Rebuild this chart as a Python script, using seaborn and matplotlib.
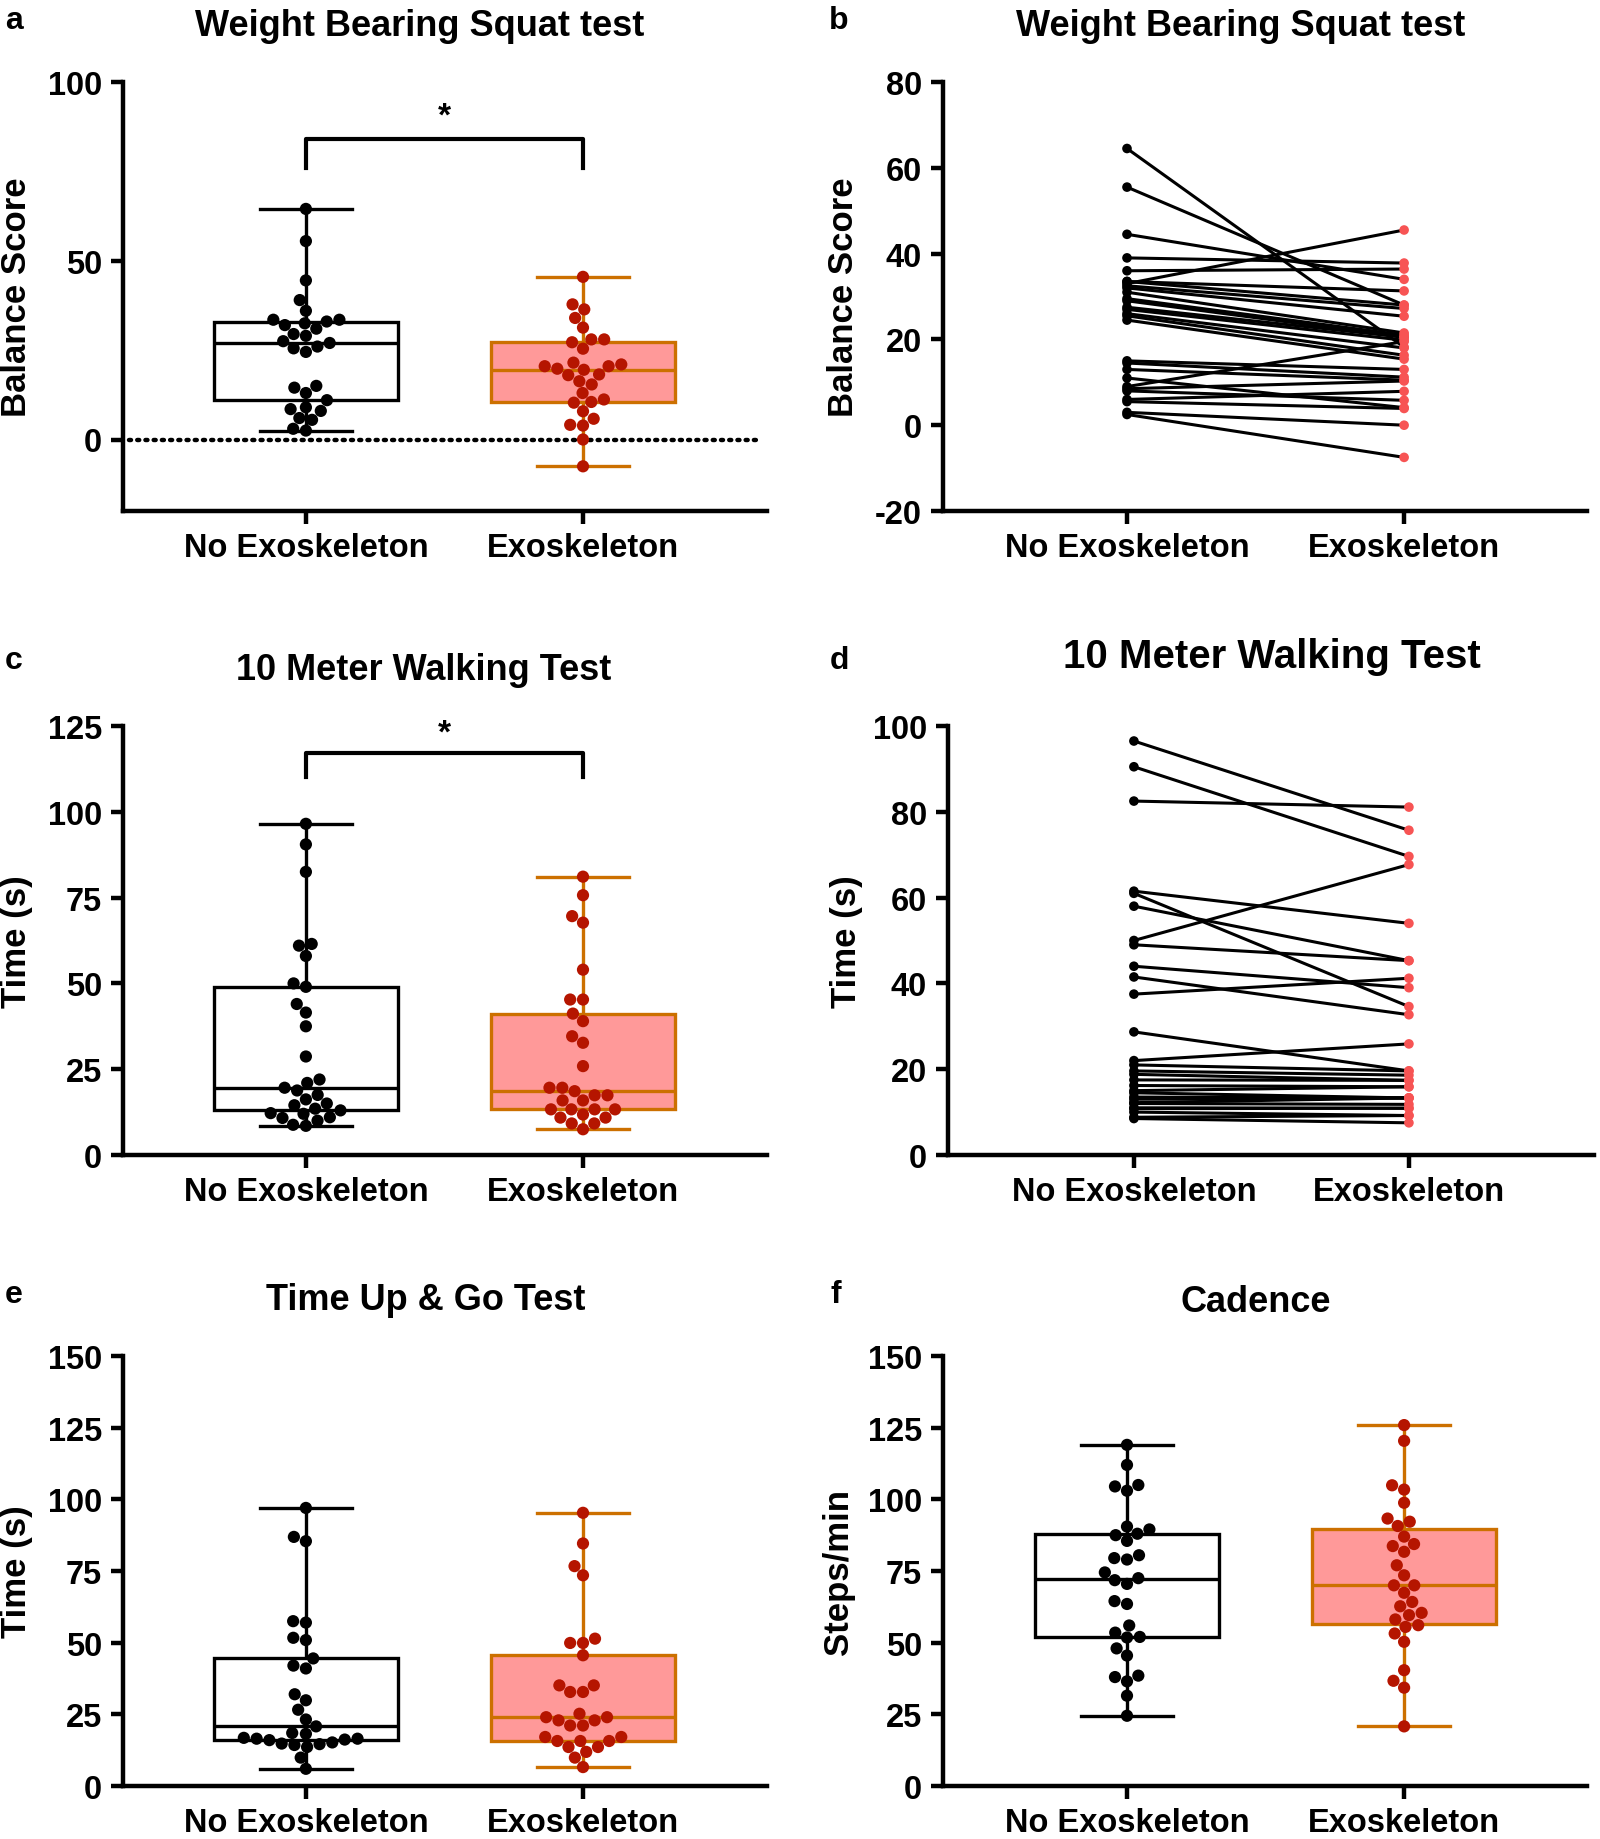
import matplotlib
matplotlib.use("Agg")
import matplotlib.pyplot as plt
import seaborn as sns
import pandas as pd
import numpy as np
import warnings
warnings.simplefilter("ignore", UserWarning)

groups = ["No Exoskeleton", "Exoskeleton"]

# Weight bearing squat test (balance score), paired by subject
balance_no_exo = [64.5, 55.5, 44.5, 39, 36, 33.5, 33.5, 33, 32.5, 32, 31, 29.5, 29, 27.5, 27,
                  26, 25.5, 24.5, 15, 14.5, 13, 11, 9, 8.5, 8, 6, 5.5, 3, 2.5]
balance_exo = [18.2, 28, 34, 37.8, 36.4, 28, 31.3, 45.5, 27.2, 25.4, 21.5, 21, 20.5, 20.5, 19.8,
               18, 16.3, 15.4, 13, 11.2, 10.5, 4.1, 19.5, 10.3, 5.8, 7.9, 3.9, 0, -7.5]

# 10 meter walking test (s), paired by subject
walk_no_exo = [96.5, 90.5, 82.5, 61.5, 61, 58, 50, 49, 44, 41.5, 37.5, 28.7, 22, 21, 19.6,
               18.8, 17.5, 16.2, 15, 14.5, 13.5, 13, 12.2, 12, 11, 10.8, 10, 8.8, 8.5]
walk_exo = [75.7, 69.6, 81.1, 54, 34.6, 45.3, 67.7, 45.3, 39, 32.7, 41.2, 19.6, 25.9, 19.6, 18.6,
            17.4, 17.4, 15.9, 15.9, 13.3, 13.3, 13.3, 13.3, 11.8, 10.9, 10.9, 9.2, 9.2, 7.5]

# Time up & go test (s)
tug_no_exo = [97, 86.9, 85.4, 57.5, 57, 51.7, 50.9, 44.5, 42, 41, 32, 29.9, 26.6, 23.2, 20.8,
              18.5, 18.2, 16.8, 16.5, 16.5, 16.2, 16, 15.2, 14.8, 14.6, 14.3, 13.6, 9.9, 6]
tug_exo = [95.3, 84.6, 76.7, 73.5, 51.4, 49.9, 49.9, 45.6, 35.1, 35.1, 32.8, 32.8, 25.2, 24, 24,
           22.9, 22.9, 21.1, 21.1, 17.1, 17.1, 15.7, 15.7, 15.7, 13.6, 13.6, 11.9, 9.9, 6.6]

# Cadence (steps/min)
cad_no_exo = [119, 112, 105, 104.5, 103, 90.5, 89.5, 88, 87.5, 85.5, 80.5, 79.5, 79, 74.5, 72.5,
              71.8, 70.5, 64.5, 63.5, 56, 53.5, 52, 51.8, 48, 45.5, 38.5, 38, 36.5, 31.5, 24.5]
cad_exo = [125.9, 120.4, 104.9, 103.4, 98.8, 93.3, 92.2, 90.7, 87, 84.4, 83.7, 81.7, 77, 73.5, 70,
           70, 67.4, 64.2, 62.7, 60.4, 59.6, 58.1, 56.1, 55.5, 53.2, 50.3, 40.4, 36.7, 34.3, 20.8]

BOX_FACE = "#FF9999"
BOX_EDGE = "#CC7000"
DOT_EXO = "#B51500"
DOT_PAIR = "#F75454"

FONT = "Liberation Sans"
plt.rcParams["font.family"] = [FONT, "DejaVu Sans"]
plt.rcParams["font.weight"] = "bold"
plt.rcParams["axes.unicode_minus"] = False


def long_df(a, b):
    return pd.DataFrame({"group": [groups[0]] * len(a) + [groups[1]] * len(b),
                         "value": list(a) + list(b)})


def style_axes(ax, yticks, ylim, xlim, ylabel, labx):
    sns.despine(ax=ax)
    for s in ["left", "bottom"]:
        ax.spines[s].set_linewidth(3.2)
    ax.set_ylim(*ylim)
    ax.set_xlim(*xlim)
    ax.set_yticks(yticks)
    ax.set_xticks([0, 1])
    ax.set_xticklabels(groups)
    ax.tick_params(axis="both", width=3.2, length=9, labelsize=23.5, pad=6)
    for t in ax.get_xticklabels() + ax.get_yticklabels():
        t.set_fontweight("bold")
    ax.set_xlabel("")
    ax.set_ylabel(ylabel, fontsize=25, fontweight="bold")
    # label coordinate is the right edge of the rotated text
    ax.yaxis.set_label_coords(labx, 0.5)


def box_panel(ax, a, b):
    df = long_df(a, b)
    for g, face, edge in [(groups[0], "white", "black"), (groups[1], BOX_FACE, BOX_EDGE)]:
        sns.boxplot(data=df[df.group == g], x="group", y="value", order=groups, color=face,
                    linecolor=edge, saturation=1, whis=(0, 100), width=0.665, showfliers=False,
                    linewidth=2.4, ax=ax)
    sns.swarmplot(data=df, x="group", y="value", order=groups, hue="group",
                  palette={groups[0]: "black", groups[1]: DOT_EXO}, size=8.8, legend=False,
                  ax=ax, zorder=5)


def pair_panel(ax, a, b):
    n = len(a)
    df = pd.DataFrame({"subject": list(range(n)) * 2, "pos": [0] * n + [1] * n,
                       "group": [groups[0]] * n + [groups[1]] * n, "value": list(a) + list(b)})
    sns.lineplot(data=df, x="pos", y="value", units="subject", estimator=None, color="black",
                 linewidth=2.2, ax=ax, legend=False)
    sns.scatterplot(data=df, x="pos", y="value", hue="group",
                    palette={groups[0]: "black", groups[1]: DOT_PAIR}, s=48, linewidth=0,
                    legend=False, ax=ax, zorder=5)


fig = plt.figure(figsize=(16, 18.4), dpi=100)
H = 1840.0
W = 1600.0


def add_ax(x0, x1, ytop, ybot):
    return fig.add_axes([x0 / W, 1 - ybot / H, (x1 - x0) / W, (ybot - ytop) / H])


ax_a = add_ax(123, 767, 83, 512)
ax_b = add_ax(943, 1587, 83, 512)
ax_c = add_ax(123, 767, 727, 1156)
ax_d = add_ax(948, 1594, 727, 1156)
ax_e = add_ax(123, 767, 1357, 1787)
ax_f = add_ax(943, 1587, 1357, 1787)

# a
box_panel(ax_a, balance_no_exo, balance_exo)
ax_a.axhline(0, color="black", linestyle=(0, (0.45, 1.4)), linewidth=3.2,
             dash_capstyle="round", xmin=0.01, xmax=0.99, zorder=1)
ax_a.plot([0, 0, 1, 1], [76, 84, 84, 76], color="black", linewidth=3)
ax_a.text(0.5, 86, "*", ha="center", va="bottom", fontsize=24, fontweight="bold")
style_axes(ax_a, [0, 50, 100], (-20, 100), (-0.66, 1.664), "Balance Score", -0.14)

# b
pair_panel(ax_b, balance_no_exo, balance_exo)
style_axes(ax_b, [-20, 0, 20, 40, 60, 80], (-20, 80), (-0.664, 1.66), "Balance Score", -0.129)

# c
box_panel(ax_c, walk_no_exo, walk_exo)
ax_c.plot([0, 0, 1, 1], [110, 117, 117, 110], color="black", linewidth=3)
ax_c.text(0.5, 118.5, "*", ha="center", va="bottom", fontsize=24, fontweight="bold")
style_axes(ax_c, [0, 25, 50, 75, 100, 125], (0, 125), (-0.66, 1.664), "Time (s)", -0.14)

# d
pair_panel(ax_d, walk_no_exo, walk_exo)
style_axes(ax_d, [0, 20, 40, 60, 80, 100], (0, 100), (-0.676, 1.673), "Time (s)", -0.132)

# e
box_panel(ax_e, tug_no_exo, tug_exo)
style_axes(ax_e, [0, 25, 50, 75, 100, 125, 150], (0, 150), (-0.66, 1.664), "Time (s)", -0.14)

# f
box_panel(ax_f, cad_no_exo, cad_exo)
style_axes(ax_f, [0, 25, 50, 75, 100, 125, 150], (0, 150), (-0.664, 1.66), "Steps/min", -0.137)

titles = [("Weight Bearing Squat test", 420, 26, 26), ("Weight Bearing Squat test", 1241, 26, 26),
          ("10 Meter Walking Test", 424, 671, 26), ("10 Meter Walking Test", 1272, 657, 29),
          ("Time Up & Go Test", 426, 1301, 26), ("Cadence", 1256, 1303, 26)]
for txt, x, y, fs in titles:
    fig.text(x / W, 1 - y / H, txt, ha="center", va="center", fontsize=fs, fontweight="bold")

letters = [("a", 14, 21), ("b", 839, 21), ("c", 14, 661), ("d", 839, 661), ("e", 14, 1295),
           ("f", 836, 1295)]
for txt, x, y in letters:
    fig.text(x / W, 1 - y / H, txt, ha="center", va="center", fontsize=23, fontweight="bold")

fig.savefig("out.png", dpi=100)
